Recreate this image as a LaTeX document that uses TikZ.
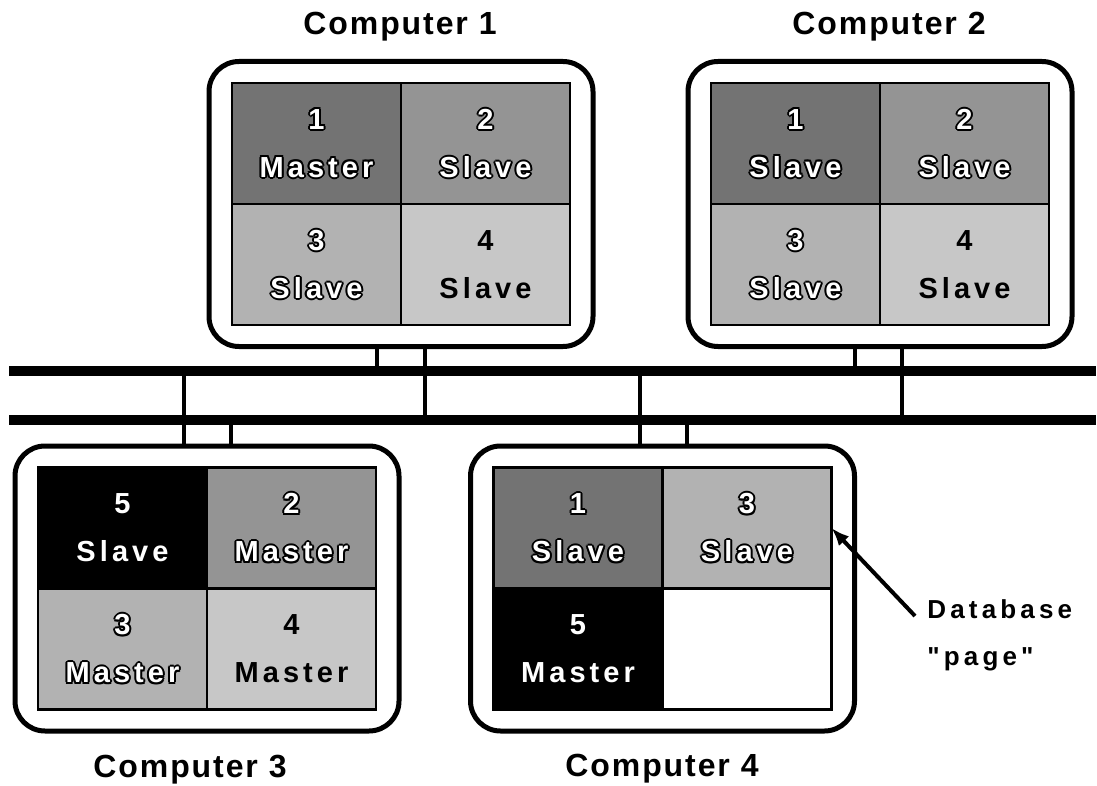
\documentclass[tikz,border=0pt]{standalone}
\usepackage{fontspec}
\setmainfont{Liberation Sans}
\newfontfamily\titlefont[LetterSpace=6]{Liberation Sans}
\newfontfamily\cellfont[LetterSpace=14]{Liberation Sans}
\newfontfamily\notefont[LetterSpace=16]{Liberation Sans}
\usepackage{tikz}
\usetikzlibrary{positioning}
\usetikzlibrary{arrows.meta}

\newcommand{\hollow}[1]{%
  \setbox0=\hbox{#1}%
  \rlap{\kern-1pt\copy0}\rlap{\kern1pt\copy0}%
  \rlap{\raise1pt\copy0}\rlap{\lower1pt\copy0}%
  \rlap{\kern-.7pt\raise.7pt\copy0}\rlap{\kern.7pt\raise.7pt\copy0}%
  \rlap{\kern-.7pt\lower.7pt\copy0}\rlap{\kern.7pt\lower.7pt\copy0}%
  \textcolor{white}{\copy0}}
\newcommand{\pg}[2]{\hollow{#1}\\\hollow{#2}}

\begin{document}
\begin{tikzpicture}[x=0.5pt,y=-0.5pt,
      frame/.style={draw,line width=2.5pt,rounded corners=15pt,
        minimum width=192pt,minimum height=142.5pt},
      cell/.style={draw,line width=1.2pt,outer sep=0pt,inner sep=0pt,
        minimum width=84.5pt,minimum height=60.5pt,align=center,
        font=\cellfont\bfseries\fontsize{14.5}{24}\selectfont},
      pA/.style={cell,fill=black!55},
      pB/.style={cell,fill=black!42},
      pC/.style={cell,fill=black!30},
      pD/.style={cell,fill=black!22},
      pE/.style={cell,fill=black,text=white},
      pF/.style={cell,fill=white},
      title/.style={font=\titlefont\bfseries\fontsize{16}{19}\selectfont,anchor=base,inner sep=0pt},
      note/.style={font=\notefont\bfseries\fontsize{13}{23.5}\selectfont,
        align=left,inner sep=0pt,anchor=north west},
      bus/.style={line width=5pt},
      tap/.style={line width=2pt},
      pointer/.style={-{Latex[length=9pt,width=7pt]},line width=2pt},
    ]
    \useasboundingbox (0,0) rectangle (1097,786);

    \node[frame] (comp1) at (401,204) {};
    \node[frame] (comp2) at (880,204) {};
    \node[frame] (comp3) at (207,588.5) {};
    \node[frame] (comp4) at (662.5,588.5) {};

    \node[pA,anchor=south east] (c1a) at (comp1.center) {\pg{1}{Master}};
    \node[pB,right=0pt of c1a] (c1b) {\pg{2}{Slave}};
    \node[pC,below=0pt of c1a] (c1c) {\pg{3}{Slave}};
    \node[pD,right=0pt of c1c] (c1d) {4\\Slave};

    \node[pA,anchor=south east] (c2a) at (comp2.center) {\pg{1}{Slave}};
    \node[pB,right=0pt of c2a] (c2b) {\pg{2}{Slave}};
    \node[pC,below=0pt of c2a] (c2c) {\pg{3}{Slave}};
    \node[pD,right=0pt of c2c] (c2d) {4\\Slave};

    \node[pE,anchor=south east] (c3a) at (comp3.center) {5\\Slave};
    \node[pB,right=0pt of c3a] (c3b) {\pg{2}{Master}};
    \node[pC,below=0pt of c3a] (c3c) {\pg{3}{Master}};
    \node[pD,right=0pt of c3c] (c3d) {4\\Master};

    \node[pA,anchor=south east] (c4a) at (comp4.center) {\pg{1}{Slave}};
    \node[pC,right=0pt of c4a] (c4b) {\pg{3}{Slave}};
    \node[pE,below=0pt of c4a] (c4c) {5\\Master};
    \node[pF,right=0pt of c4c] (c4d) {};

    \node[title] (lab1) at (400,35) {Computer 1};
    \node[title] (lab2) at (889,35) {Computer 2};
    \node[title] (lab3) at (190,777) {Computer 3};
    \node[title] (lab4) at (662,776) {Computer 4};

    \coordinate (busAw) at (9,371);
    \coordinate (busAe) at (1096,371);
    \coordinate (busBw) at (9,420);
    \coordinate (busBe) at (1096,420);
    \draw[bus] (busAw) -- (busAe);
    \draw[bus] (busBw) -- (busBe);

    \coordinate (t1a) at (377,371);
    \coordinate (t1b) at (425,420);
    \coordinate (t2a) at (855,371);
    \coordinate (t2b) at (902,420);
    \coordinate (t3a) at (184,371);
    \coordinate (t3b) at (231,420);
    \coordinate (t4a) at (640,371);
    \coordinate (t4b) at (687,420);
    \draw[tap] (t1a) -- (t1a |- comp1.south);
    \draw[tap] (t1b) -- (t1b |- comp1.south);
    \draw[tap] (t2a) -- (t2a |- comp2.south);
    \draw[tap] (t2b) -- (t2b |- comp2.south);
    \draw[tap] (t3a) -- (t3a |- comp3.north);
    \draw[tap] (t3b) -- (t3b |- comp3.north);
    \draw[tap] (t4a) -- (t4a |- comp4.north);
    \draw[tap] (t4b) -- (t4b |- comp4.north);

    \node[note] (dbpage) at (927,599) {Database\\"page"};
    \draw[pointer] ([shift={(-6pt,-8.5pt)}]dbpage.north west) -- (c4b.east);
\end{tikzpicture}
\end{document}
